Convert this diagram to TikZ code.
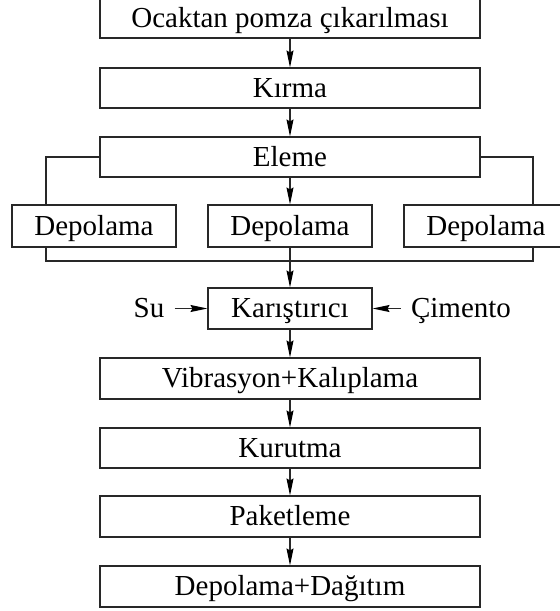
\documentclass[tikz,border=0pt]{standalone}
\usepackage{fontspec}
\setmainfont{Liberation Serif}
\usetikzlibrary{arrows.meta}
\definecolor{lineGray}{RGB}{40,40,40}

\begin{document}
\begin{tikzpicture}[x=1pt,y=-1pt,
  adim/.style={draw=lineGray,line width=1.1pt,minimum width=380pt,minimum height=40pt,inner sep=0pt,text height=22pt,text depth=4pt,font=\fontsize{29}{33}\selectfont},
  depo/.style={adim,minimum width=164pt,minimum height=42pt},
  girdi/.style={inner sep=10pt,text height=22pt,text depth=4pt,font=\fontsize{29}{33}\selectfont},
  ok/.style={draw=lineGray,line width=1.1pt,-{Stealth[length=17pt,width=7pt,inset=2pt,color=black]}},
  hat/.style={draw=lineGray,line width=1.1pt}]
\useasboundingbox (0,0) rectangle (560,611);
% ana akis
\node[adim] (ocak) at (290,18) {Ocaktan pomza çıkarılması};
\node[adim] (kirma) at (290,88) {Kırma};
\node[adim] (eleme) at (290,157) {Eleme};
\node[depo] (depoL) at (94,226) {Depolama};
\node[depo] (depoM) at (290,226) {Depolama};
\node[depo] (depoR) at (486,226) {Depolama};
\node[adim,minimum width=164pt,minimum height=41pt] (karis) at (290,308.5) {Karıştırıcı};
\node[girdi] (su) at (149,308.5) {Su};
\node[girdi] (cimento) at (461,308.5) {Çimento};
\node[adim,minimum height=41pt] (vibra) at (290,378.5) {Vibrasyon+Kalıplama};
\node[adim] (kurut) at (290,448) {Kurutma};
\node[adim,minimum height=41pt] (paket) at (290,516.5) {Paketleme};
\node[adim,minimum height=41pt] (dagit) at (290,586.5) {Depolama+Dağıtım};
\coordinate (solK) at (46,261);
\coordinate (sagK) at (533,261);
% baglantilar
\draw[ok] (ocak) -- (kirma);
\draw[ok] (kirma) -- (eleme);
\draw[ok] (eleme) -- (depoM);
\draw[hat] (eleme.west) -| (solK |- depoL.north);
\draw[hat] (eleme.east) -| (sagK |- depoR.north);
\draw[hat] (solK |- depoL.south) -- (solK) -- (sagK) -- (sagK |- depoR.south);
\draw[ok] (depoM) -- (karis);
\draw[ok] (su) -- (karis);
\draw[ok] (cimento) -- (karis);
\draw[ok] (karis) -- (vibra);
\draw[ok] (vibra) -- (kurut);
\draw[ok] (kurut) -- (paket);
\draw[ok] (paket) -- (dagit);
\end{tikzpicture}
\end{document}
